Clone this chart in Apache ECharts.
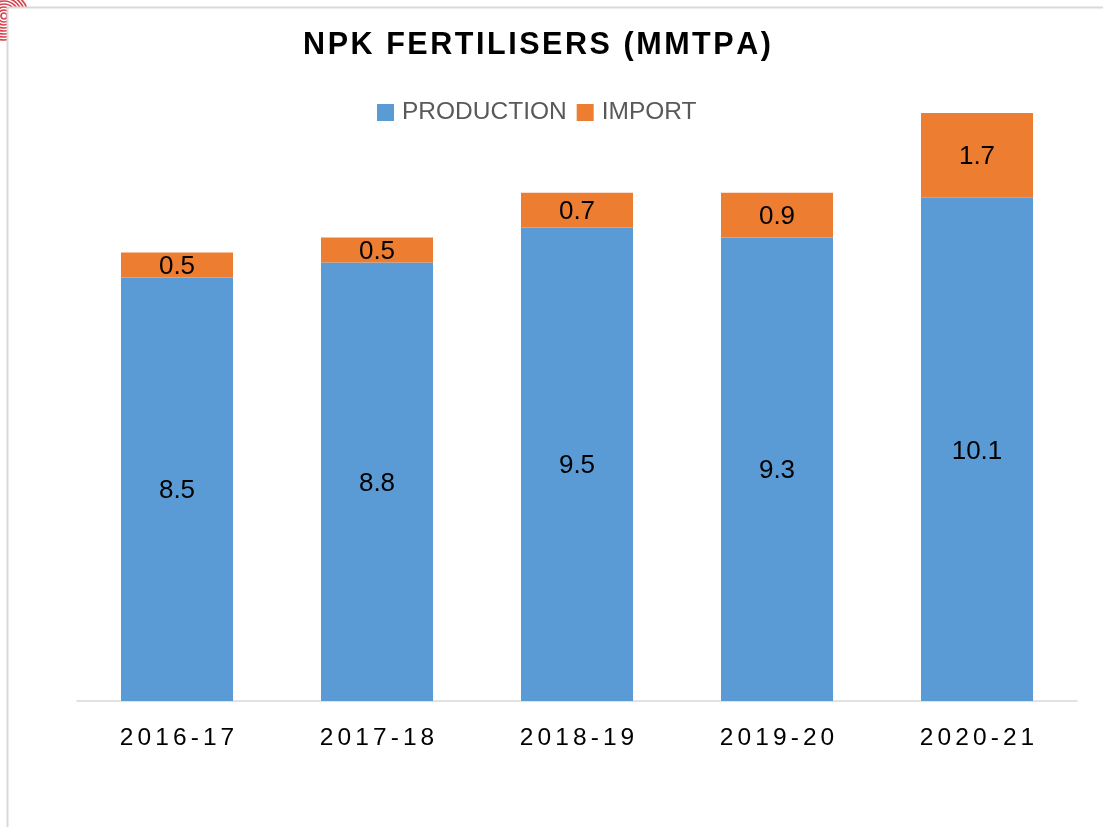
<!DOCTYPE html>
<html>
<head>
<meta charset="utf-8">
<title>NPK Fertilisers (MMTPA)</title>
<script src="https://cdn.jsdelivr.net/npm/echarts@6/dist/echarts.min.js"></script>
<style>
  html, body { margin: 0; padding: 0; background: #ffffff; }
  #chart { width: 1103px; height: 827px; }
</style>
</head>
<body>
<div id="chart"></div>
<script>
// Financial years shown on the category axis
const years = ['2016-17', '2017-18', '2018-19', '2019-20', '2020-21'];
// Domestic production, million metric tonnes per annum
const production = [8.5, 8.8, 9.5, 9.3, 10.1];
// Imports, million metric tonnes per annum
const imports = [0.5, 0.5, 0.7, 0.9, 1.7];

const titleText = 'NPK FERTILISERS (MMTPA)';
const FONT = '"Liberation Sans", Arial, Helvetica, sans-serif';

// Widen text by placing a narrow space between each character
function spaced(str, gap) {
  return str.split('').join(gap);
}

const chart = echarts.init(document.getElementById('chart'), null, { renderer: 'canvas' });

// Decorative red rings peeking out behind the top-left corner of the frame
const rings = [];
for (let r = 3; r <= 24; r += 3) {
  rings.push({
    type: 'circle',
    shape: { cx: 4, cy: 16, r: r },
    style: { fill: 'none', stroke: '#d8434f', lineWidth: 1.7 },
    z: -10,
    silent: true
  });
}

const valueLabel = {
  show: true,
  position: 'inside',
  offset: [0, 2],
  fontSize: 26,
  color: '#000000',
  fontFamily: FONT
};

const option = {
  backgroundColor: '#ffffff',
  animation: false,
  textStyle: { fontFamily: FONT },
  graphic: [
    ...rings,
    {
      type: 'rect',
      shape: { x: 7.5, y: 7.5, width: 1200, height: 900 },
      style: { fill: '#ffffff', stroke: '#d9d9d9', lineWidth: 2 },
      z: -5,
      silent: true
    },
    {
      type: 'text',
      x: 537,
      y: 46,
      style: {
        text: spaced(titleText, '\u200A'),
        font: 'bold 30.5px ' + FONT,
        fill: '#000000',
        align: 'center',
        verticalAlign: 'middle'
      },
      z: 10
    }
  ],
  legend: {
    data: ['PRODUCTION', 'IMPORT'],
    left: 377,
    top: 100,
    padding: 0,
    icon: 'rect',
    itemWidth: 17,
    itemHeight: 17,
    itemGap: 10,
    textStyle: { fontSize: 24.5, color: '#595959', fontFamily: FONT, padding: [0, 0, 0, 3] }
  },
  grid: {
    left: 77,
    right: 26,
    top: 103,
    bottom: 126,
    containLabel: false
  },
  xAxis: {
    type: 'category',
    data: years,
    axisLine: { show: true, lineStyle: { color: '#d9d9d9', width: 1.5 } },
    axisTick: { show: false },
    axisLabel: {
      margin: 25,
      fontSize: 24.5,
      color: '#000000',
      fontFamily: FONT,
      formatter: function (v) { return spaced(v, '\u200A\u200A'); }
    }
  },
  yAxis: {
    type: 'value',
    min: 0,
    max: 12,
    show: false,
    splitLine: { show: false }
  },
  series: [
    {
      name: 'PRODUCTION',
      type: 'bar',
      stack: 'total',
      barWidth: 112,
      data: production,
      itemStyle: { color: '#5b9bd5' },
      label: valueLabel
    },
    {
      name: 'IMPORT',
      type: 'bar',
      stack: 'total',
      barWidth: 112,
      data: imports,
      itemStyle: { color: '#ed7d31' },
      label: valueLabel
    }
  ]
};

chart.setOption(option);
</script>
</body>
</html>
